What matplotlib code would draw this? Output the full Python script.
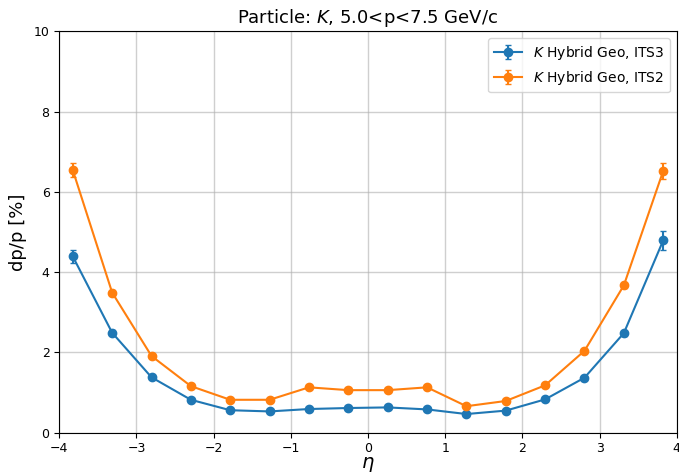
import matplotlib
matplotlib.use("Agg")
import matplotlib.pyplot as plt
import numpy as np

eta = [-3.825, -3.315, -2.805, -2.295, -1.785, -1.275, -0.765, -0.255,
       0.255, 0.765, 1.275, 1.785, 2.295, 2.805, 3.315, 3.825]
its3 = [4.39, 2.49, 1.38, 0.82, 0.56, 0.53, 0.59, 0.615,
        0.63, 0.58, 0.465, 0.55, 0.83, 1.37, 2.48, 4.79]
its3_err = [0.17, 0.06, 0.04, 0.03, 0.02, 0.02, 0.02, 0.02,
            0.02, 0.02, 0.02, 0.02, 0.03, 0.04, 0.06, 0.23]
its2 = [6.54, 3.49, 1.91, 1.16, 0.82, 0.82, 1.13, 1.06,
        1.06, 1.13, 0.66, 0.79, 1.18, 2.04, 3.67, 6.52]
its2_err = [0.17, 0.06, 0.04, 0.03, 0.02, 0.02, 0.03, 0.03,
            0.03, 0.03, 0.02, 0.02, 0.03, 0.04, 0.07, 0.20]
labels = ["$K$ Hybrid Geo, ITS3", "$K$ Hybrid Geo, ITS2"]
title = "Particle: $K$, 5.0<p<7.5 GeV/c"

fig = plt.figure(figsize=(6.79, 4.73), dpi=100)
ax = fig.add_axes([59.3/679, 1 - 432.7/473, (676.7-59.3)/679, (432.7-31.3)/473])
ax.errorbar(eta, its3, yerr=its3_err, marker='o', color='#1f77b4', capsize=2, label=labels[0])
ax.errorbar(eta, its2, yerr=its2_err, marker='o', color='#ff7f0e', capsize=2, label=labels[1])
ax.set_xlim(-4, 4)
ax.set_ylim(0, 10)
ax.set_xticks([-4, -3, -2, -1, 0, 1, 2, 3, 4])
ax.set_yticks([0, 2, 4, 6, 8, 10])
ax.tick_params(labelsize=9)
ax.grid(True, color='#b0b0b0', alpha=0.6, linewidth=1)
ax.set_xlabel(r"$\eta$", fontsize=14, labelpad=0)
ax.set_ylabel("dp/p [%]", fontsize=13, labelpad=5)
ax.set_title(title, fontsize=13)
ax.legend(loc='upper right', fontsize=10)
fig.savefig("out.png", dpi=100)
